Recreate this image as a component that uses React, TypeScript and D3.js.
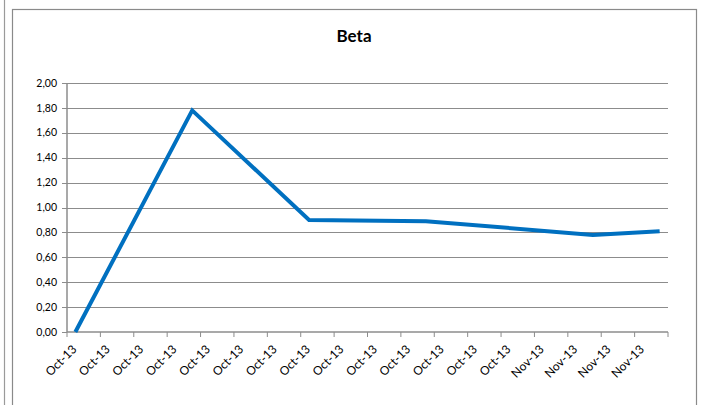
import React from "react";
import * as d3 from "d3";

const title = "Beta";
const pointDates = ["2013-10-05", "2013-10-12", "2013-10-19", "2013-10-26", "2013-11-05", "2013-11-09"];
const betaValues = [0.0, 1.78, 0.9, 0.89, 0.78, 0.81];
const axisStart = "2013-10-05";
const axisEnd = "2013-11-10";
const yTicks = [0, 0.2, 0.4, 0.6, 0.8, 1.0, 1.2, 1.4, 1.6, 1.8, 2.0];

const W = 705;
const H = 405;
const FONT = "Lato, 'Open Sans', 'DejaVu Sans', sans-serif";

export default function App() {
  const parse = d3.utcParse("%Y-%m-%d");
  const start = parse(axisStart) as Date;
  const end = parse(axisEnd) as Date;
  const left = 67, right = 668, top = 83, bottom = 332;
  const x = d3.scaleUtc().domain([start, end]).range([left, right]);
  const y = d3.scaleLinear().domain([0, 2]).range([bottom, top]);
  const half = 12 * 3600 * 1000;
  const tickDates = d3.utcDay.range(start, d3.utcDay.offset(end, 1), 2);
  const labelDates = tickDates.slice(0, -1);
  const fmtDate = d3.utcFormat("%b-%y");
  const fmtY = (v: number) => d3.format(".2f")(v).replace(".", ",");
  const pts: [number, number][] = pointDates.map((d, i) => [
    x(new Date((parse(d) as Date).getTime() + half)),
    y(betaValues[i]),
  ]);
  const line = d3.line();
  const grid = "#8c8c8c";

  return (
    <svg width={W} height={H} style={{ position: "absolute", left: 0, top: 0, background: "#fff" }} fontFamily={FONT}>
      <rect x={0} y={0} width={W} height={H} fill="#fff" />
      <line x1={4.5} x2={4.5} y1={0} y2={H} stroke="#9a9a9a" strokeWidth={1.2} />
      <rect x={12.5} y={9.5} width={684} height={H} fill="#fff" stroke="#8a8a8a" strokeWidth={1.2} />
      <text x={354} y={42} textAnchor="middle" fontSize={17} fontWeight="bold" fill="#000">{title}</text>
      {yTicks.map((t) => (
        <g key={t}>
          {t > 0 && <line x1={left} x2={right} y1={Math.round(y(t)) + 0.5} y2={Math.round(y(t)) + 0.5} stroke={grid} strokeWidth={1} />}
          <line x1={left - 5} x2={left} y1={Math.round(y(t)) + 0.5} y2={Math.round(y(t)) + 0.5} stroke={grid} strokeWidth={1} />
          <text x={57} y={y(t)} dy="0.35em" textAnchor="end" fontSize={10.5} fill="#000">{fmtY(t)}</text>
        </g>
      ))}
      <line x1={left} x2={left} y1={top} y2={bottom} stroke={grid} strokeWidth={1.5} />
      <line x1={left} x2={right} y1={bottom} y2={bottom} stroke={grid} strokeWidth={1.5} />
      {tickDates.map((d, i) => (
        <line key={i} x1={x(d)} x2={x(d)} y1={bottom} y2={bottom + 5} stroke={grid} strokeWidth={1} />
      ))}
      {labelDates.map((d, i) => {
        const cx = x(new Date(d.getTime() + half));
        return (
          <text key={i} transform={`translate(${cx - 1},${bottom + 15}) rotate(-45)`} dy="0.35em" textAnchor="end" fontSize={12} fill="#000">
            {fmtDate(d)}
          </text>
        );
      })}
      <path d={line(pts) || ""} fill="none" stroke="#0070C0" strokeWidth={4} />
    </svg>
  );
}
